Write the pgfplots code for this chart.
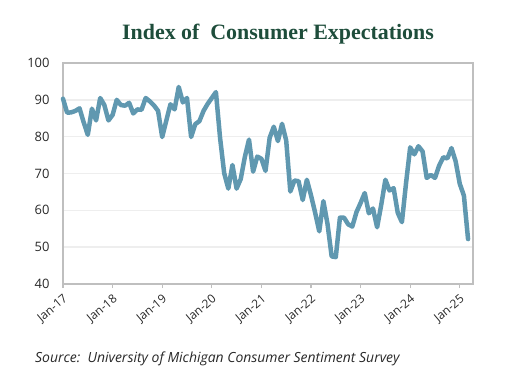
\documentclass[border=0pt]{standalone}
\usepackage{fontspec}
\setmainfont{Open Sans}
\newfontfamily\titlefont{Liberation Serif}
\usepackage{pgfplots}
\pgfplotsset{compat=1.18}
\definecolor{linecol}{RGB}{96,152,176}
\definecolor{titlecol}{RGB}{30,77,59}
\definecolor{framecol}{RGB}{191,191,191}
\definecolor{gridcol}{RGB}{238,238,238}
\definecolor{labcol}{RGB}{40,40,40}
\pgfplotstableread{
m v
0 90.3
1 86.5
2 86.6
3 87.0
4 87.7
5 83.9
6 80.5
7 87.6
8 84.4
9 90.5
10 88.6
11 84.4
12 85.9
13 90.0
14 88.6
15 88.4
16 89.2
17 86.3
18 87.4
19 87.3
20 90.5
21 89.6
22 88.5
23 87.0
24 79.9
25 84.4
26 88.8
27 87.4
28 93.5
29 89.3
30 90.5
31 79.9
32 83.4
33 84.2
34 87.0
35 88.9
36 90.5
37 92.1
38 79.7
39 70.1
40 65.9
41 72.3
42 65.9
43 68.5
44 74.5
45 79.2
46 70.5
47 74.6
48 74.0
49 70.7
50 79.7
51 82.7
52 78.8
53 83.5
54 79.0
55 65.1
56 68.1
57 67.9
58 62.8
59 68.3
60 64.1
61 59.4
62 54.3
63 62.5
64 56.3
65 47.5
66 47.3
67 58.0
68 58.0
69 56.2
70 55.6
71 59.5
72 62.0
73 64.7
74 59.2
75 60.5
76 55.4
77 61.5
78 68.3
79 65.4
80 66.0
81 59.3
82 56.8
83 67.4
84 77.1
85 75.2
86 77.4
87 76.0
88 68.8
89 69.6
90 68.8
91 72.1
92 74.4
93 74.1
94 76.9
95 73.3
96 67.2
97 64.0
98 52.2
}\datatable
\begin{document}
\begin{tikzpicture}
\useasboundingbox (0,0) rectangle (517bp,383bp);
\begin{axis}[
  at={(63bp,99bp)}, anchor=south west, scale only axis,
  width=410bp, height=221bp,
  xmin=0, xmax=99.2, ymin=40, ymax=100,
  ytick={40,50,...,100},
  xtick={0,12,...,96},
  xticklabels={Jan-17,Jan-18,Jan-19,Jan-20,Jan-21,Jan-22,Jan-23,Jan-24,Jan-25},
  axis line style={framecol, line width=1.5bp},
  ymajorgrids, grid style={gridcol, line width=1.5bp},
  tick align=outside, xtick pos=bottom, ytick pos=left,
  major tick length=4bp,
  ytick style={draw=none},
  xtick style={framecol, line width=1.2bp},
  /pgf/number format/assume math mode=true,
  yticklabel style={font=\fontsize{13}{13}\selectfont, text=labcol, xshift=-6bp},
  xticklabel style={font=\fontsize{12}{12}\selectfont, text=labcol, xshift=4bp, yshift=-9bp, rotate=40, anchor=east, inner sep=1bp},
  clip=false,
]
\addplot[linecol, line width=4.5bp, line join=round, line cap=round] table[x=m, y=v] {\datatable};
\end{axis}
\node[font=\titlefont\bfseries\fontsize{22}{22}\selectfont, text=titlecol] at (278bp,349bp) {Index of\ \ Consumer Expectations};
\node[anchor=west, font=\itshape\fontsize{14}{14}\selectfont, text=labcol, inner sep=0pt] at (35bp,24bp) {Source:\ \ University of Michigan Consumer Sentiment Survey};
\end{tikzpicture}
\end{document}
